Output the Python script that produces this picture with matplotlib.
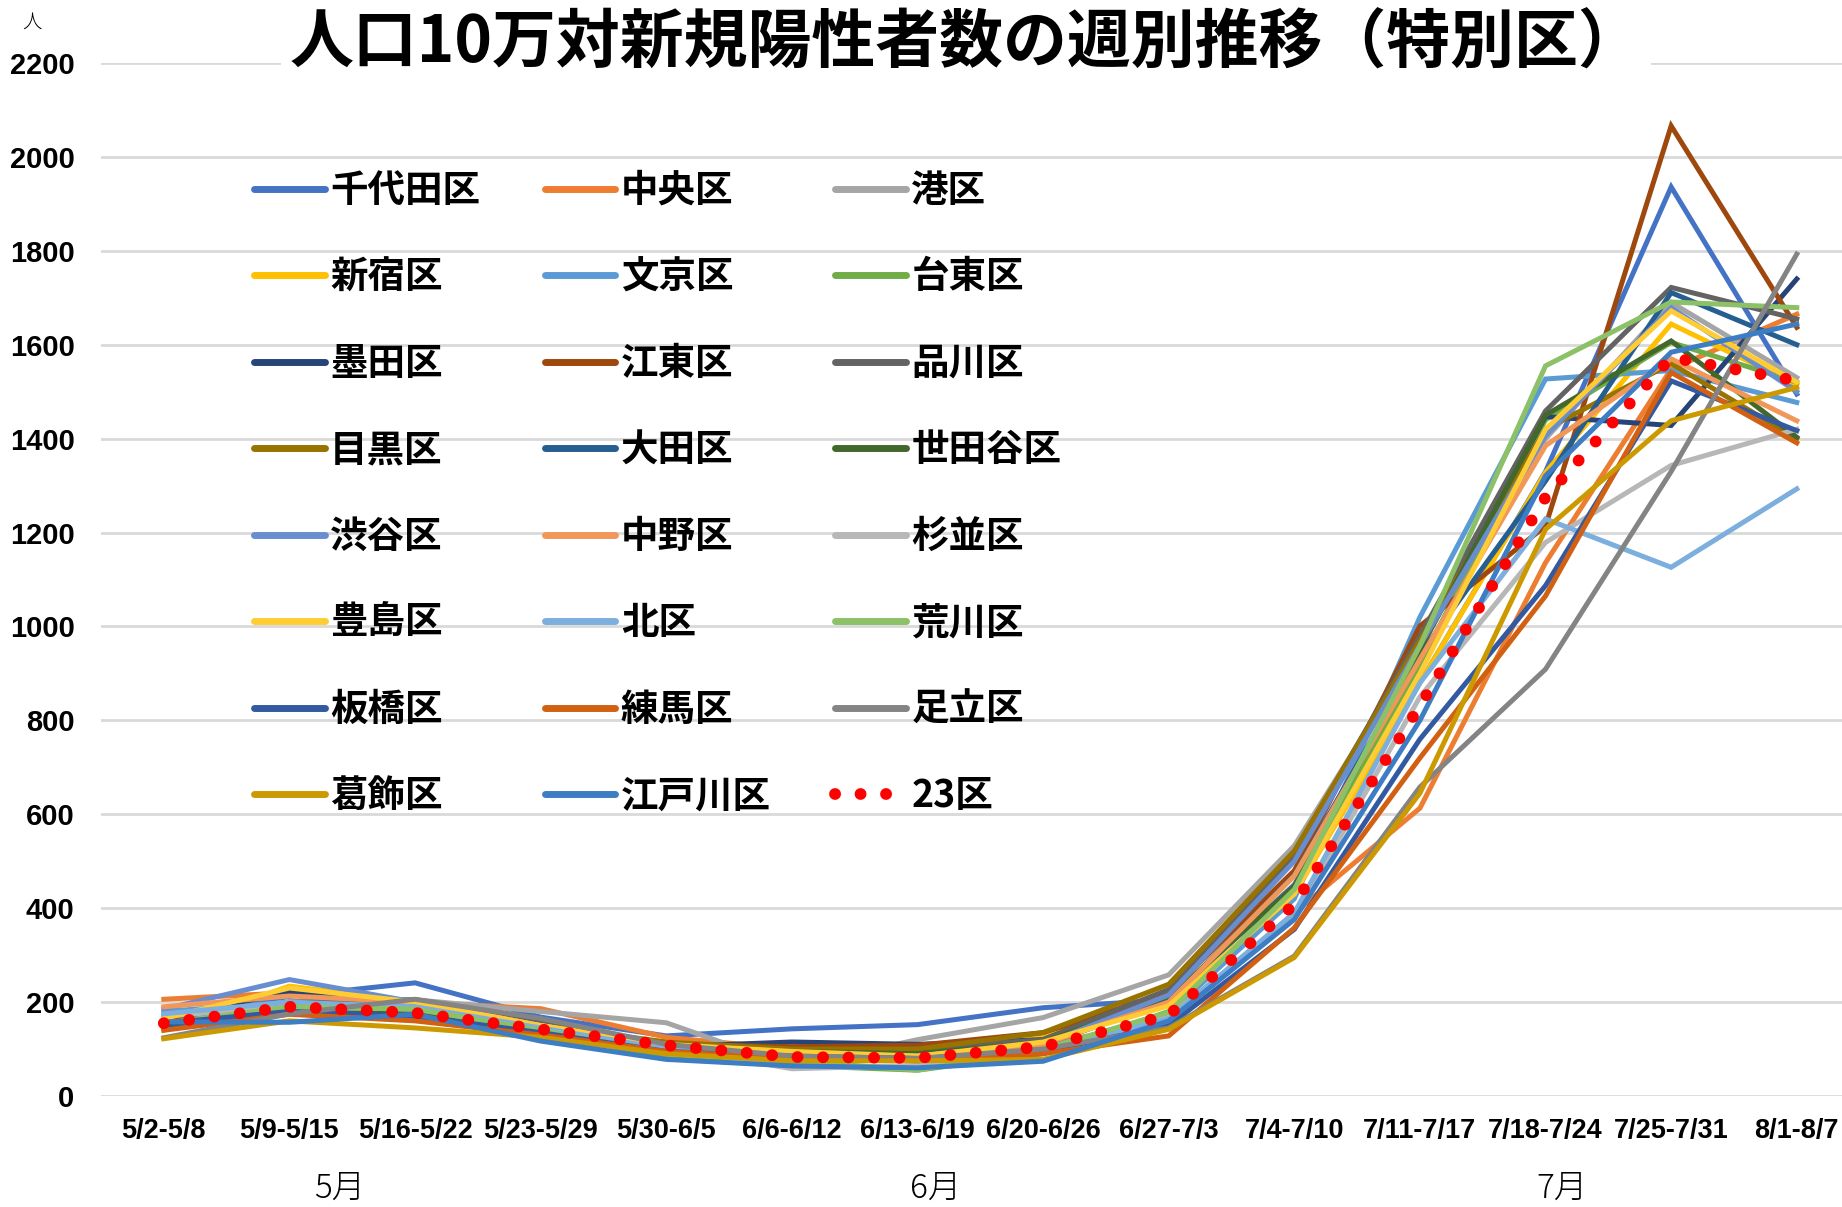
import numpy as np
import matplotlib.pyplot as plt

plt.rcParams['font.family'] = ['Noto Sans CJK JP', 'DejaVu Sans']

weeks = ['5/2-5/8', '5/9-5/15', '5/16-5/22', '5/23-5/29', '5/30-6/5', '6/6-6/12',
         '6/13-6/19', '6/20-6/26', '6/27-7/3', '7/4-7/10', '7/11-7/17', '7/18-7/24',
         '7/25-7/31', '8/1-8/7']

# wards (values: new positives per 100k, weekly)
chiyoda = [170, 212, 241, 168, 128, 143, 152, 188, 205, 450, 880, 1330, 1936, 1495]
chuo = [206, 220, 200, 186, 125, 100, 95, 110, 160, 390, 613, 1136, 1548, 1665]
minato = [160, 200, 205, 180, 156, 62, 120, 167, 258, 533, 960, 1400, 1690, 1530]
shinjuku = [140, 234, 200, 150, 115, 95, 80, 130, 195, 430, 880, 1328, 1644, 1515]
bunkyo = [180, 200, 190, 145, 100, 85, 75, 100, 175, 420, 1020, 1527, 1545, 1477]
taito = [150, 185, 180, 140, 80, 65, 55, 90, 180, 440, 920, 1440, 1605, 1520]
sumida = [165, 222, 190, 140, 105, 115, 110, 120, 225, 508, 960, 1447, 1428, 1740]
koto = [160, 190, 175, 140, 110, 105, 108, 135, 220, 480, 1001, 1214, 2066, 1637]
shinagawa = [150, 200, 205, 160, 110, 95, 100, 120, 227, 515, 980, 1459, 1722, 1655]
meguro = [145, 185, 175, 150, 115, 100, 100, 135, 238, 522, 970, 1420, 1560, 1400]
ota = [150, 180, 170, 135, 100, 90, 90, 110, 200, 470, 940, 1310, 1711, 1600]
setagaya = [155, 190, 180, 145, 110, 95, 90, 115, 210, 447, 950, 1450, 1608, 1403]
shibuya = [185, 248, 200, 150, 105, 90, 85, 110, 215, 500, 960, 1406, 1679, 1500]
nakano = [190, 213, 200, 150, 105, 90, 85, 110, 200, 469, 930, 1385, 1570, 1438]
suginami = [170, 190, 185, 150, 105, 58, 65, 95, 170, 380, 850, 1179, 1343, 1420]
toshima = [165, 230, 200, 150, 110, 95, 85, 115, 192, 430, 900, 1420, 1672, 1520]
kita = [175, 200, 190, 145, 100, 85, 75, 95, 165, 390, 880, 1229, 1126, 1293]
arakawa = [155, 190, 185, 140, 90, 75, 55, 100, 178, 440, 959, 1555, 1691, 1679]
itabashi = [155, 180, 170, 135, 95, 85, 80, 95, 150, 355, 760, 1087, 1523, 1417]
nerima = [140, 174, 160, 130, 95, 80, 75, 90, 128, 358, 720, 1065, 1541, 1391]
adachi = [124, 175, 206, 165, 110, 85, 80, 100, 145, 298, 658, 909, 1330, 1793]
katsushika = [122, 160, 145, 125, 90, 75, 75, 78, 142, 295, 645, 1207, 1438, 1509]
edogawa = [158, 157, 174, 117, 78, 64, 60, 74, 160, 376, 800, 1321, 1584, 1644]
ku23 = [155, 190, 177, 142, 108, 83, 81, 105, 172, 408, 831, 1275, 1573, 1523]

names = ['千代田区', '中央区', '港区', '新宿区', '文京区', '台東区', '墨田区', '江東区',
         '品川区', '目黒区', '大田区', '世田谷区', '渋谷区', '中野区', '杉並区', '豊島区',
         '北区', '荒川区', '板橋区', '練馬区', '足立区', '葛飾区', '江戸川区']
series = [chiyoda, chuo, minato, shinjuku, bunkyo, taito, sumida, koto, shinagawa,
          meguro, ota, setagaya, shibuya, nakano, suginami, toshima, kita, arakawa,
          itabashi, nerima, adachi, katsushika, edogawa]
colors = ['#4472C4', '#ED7D31', '#A5A5A5', '#FFC000', '#5B9BD5', '#70AD47',
          '#264478', '#9E480E', '#636363', '#997300', '#255E91', '#43682B',
          '#698ED0', '#F1975A', '#B7B7B7', '#FFCD33', '#7CAFDD', '#8CC168',
          '#335AA1', '#D26012', '#848484', '#CC9A00', '#3C7DC4']

fig = plt.figure(figsize=(18.42, 12.07), dpi=100)
ax = fig.add_axes([101 / 1842, 111 / 1207, 1 - 101 / 1842, (1096 - 63) / 1207])

x = np.arange(len(weeks))
handles = []
for name, vals, c in zip(names, series, colors):
    h, = ax.plot(x, vals, color=c, lw=3.6, label=name, solid_joinstyle='miter')
    handles.append(h)
h, = ax.plot(x, ku23, color='#FF0000', lw=8.5, linestyle=(0, (0.01, 2.15)),
             dash_capstyle='round', label='23区')
handles.append(h)

ax.set_xlim(-0.5, 13.36)
ax.set_ylim(0, 2200)
ax.set_yticks(np.arange(0, 2201, 200))
ax.grid(axis='y', color='#D9D9D9', lw=2)
ax.set_axisbelow(True)
for s in ax.spines.values():
    s.set_visible(False)
ax.tick_params(length=0)
ax.tick_params(axis='y', pad=19)
ax.tick_params(axis='x', pad=16)
ax.set_xticks(x)
ax.set_xticklabels(weeks)
tick_font = ['Liberation Sans Narrow', 'Liberation Sans']
for t in ax.get_xticklabels():
    t.set_family(tick_font)
    t.set_fontweight('bold')
    t.set_fontsize(19.5)
for t in ax.get_yticklabels():
    t.set_family(tick_font)
    t.set_fontweight('bold')
    t.set_fontsize(21)

# legend, row-major order like the original
order = []
for col in range(3):
    order += list(range(col, 24, 3))
leg = ax.legend([handles[i] for i in order], [handles[i].get_label() for i in order],
                ncol=3, loc='upper left', bbox_to_anchor=(254 / 1842, 1 - 171 / 1207),
                bbox_transform=fig.transFigure, frameon=False,
                prop={'family': 'Noto Sans CJK JP', 'weight': 'bold', 'size': 27},
                handlelength=1.88, handletextpad=0.15, columnspacing=1.72,
                labelspacing=1.265, borderaxespad=0, borderpad=0)
for lh in leg.get_lines()[:-1]:
    lh.set_linewidth(5)
    lh.set_solid_capstyle('round')

fig.text(966 / 1842, 1 - 44 / 1207, '人口10万対新規陽性者数の週別推移（特別区）',
         ha='center', va='center', fontsize=46, fontweight='bold',
         bbox=dict(facecolor='white', edgecolor='none', pad=6))
fig.text(32 / 1842, 1 - 22 / 1207, '人', ha='center', va='center', fontsize=14,
         fontweight='light')
for label, px in [('5月', 340), ('6月', 936), ('7月', 1562)]:
    fig.text(px / 1842, 1 - 1189 / 1207, label, ha='center', va='center',
             fontsize=24, fontweight='light')

fig.savefig('out.png', dpi=100)
